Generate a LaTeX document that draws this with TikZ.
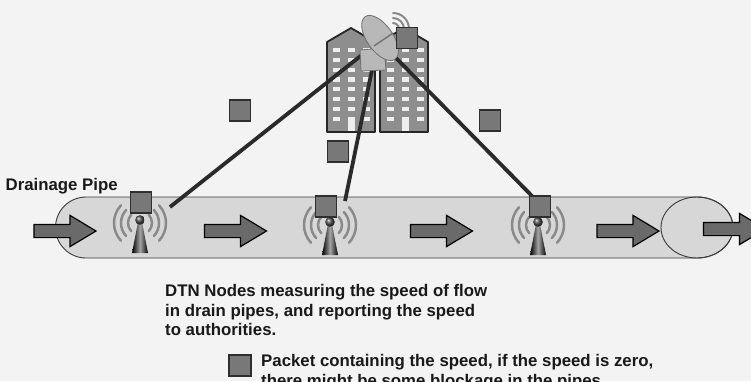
\documentclass[tikz,border=0pt]{standalone}
\usepackage{fontspec}
\setmainfont{Liberation Sans}
\usetikzlibrary{shapes.arrows}

\definecolor{bg}{HTML}{F3F3F3}
\definecolor{pipefill}{HTML}{D7D7D7}
\definecolor{pipeline}{HTML}{3A3A3A}
\definecolor{arrowfill}{HTML}{6A6A6A}
\definecolor{packetfill}{HTML}{787878}
\definecolor{packetline}{HTML}{2E2E2E}
\definecolor{bldgfill}{HTML}{8E8E8E}
\definecolor{window}{HTML}{EEEEEE}
\definecolor{dishfill}{HTML}{B8B8B8}
\definecolor{dishline}{HTML}{707070}
\definecolor{linkcol}{HTML}{2A2A2A}
\definecolor{wavecol}{HTML}{8A8A8A}

\tikzset{
  flowarrow/.style={single arrow, draw=black, fill=arrowfill, line width=1.2pt,
    minimum height=62pt, minimum width=30pt, inner sep=6pt,
    single arrow head extend=9pt, single arrow tip angle=62},
  packet/.style={draw=packetline, fill=packetfill, line width=1.3pt,
    minimum size=21pt, inner sep=0pt},
  link/.style={draw=linkcol, line width=3.8pt},
  wave/.style={draw=wavecol, line width=2.5pt, line cap=round},
  bldg/.style={fill=bldgfill, draw=black!85, line width=1.8pt, line join=round},
  win/.style={fill=window},
  dish/.style={fill=dishfill, draw=dishline, line width=0.8pt},
  lbl/.style={font=\bfseries\fontsize{16.8}{19.2}\selectfont, text=black!90,
    inner sep=0pt, align=left},
  tower/.pic={
    \foreach \r in {12,19,26}{
      \draw[wave] (0,3) ++(137:\r) arc[start angle=137, end angle=223, radius=\r];
      \draw[wave] (0,3) ++(-43:\r) arc[start angle=-43, end angle=43, radius=\r];
    }
    \shade[left color=black, right color=black, middle color=gray!70]
      (-2,2) -- (2,2) -- (8,33) -- (-8,33) -- cycle;
    \shade[ball color=gray!60!black] (0,0) circle (4.8);
  }
}

\begin{document}
\begin{tikzpicture}[x=1pt, y=-1pt]
  \useasboundingbox (0,0) rectangle (751,381);
  \clip (0,0) rectangle (751,381);
  \fill[bg] (0,0) rectangle (751,381);

  % drainage pipe with its open end
  \filldraw[fill=pipefill, draw=pipeline, line width=0.9pt]
    (697,197) -- (86,197) arc[start angle=-90, end angle=-270, radius=30.5]
    -- (697,258) arc[start angle=90, end angle=-90, x radius=36, y radius=30.5];
  \draw[pipeline, line width=0.9pt] (697,227.5) ellipse [x radius=36, y radius=30.5];

  % flow arrows
  \node[flowarrow] (a1) at (59.5,231) {};
  \node[flowarrow] (a2) at (230,231) {};
  \node[flowarrow] (a3) at (436,231) {};
  \node[flowarrow] (a4) at (622.5,231) {};
  \node[flowarrow] (a5) at (729,229) {};

  % sensor towers
  \pic at (140,220) {tower};
  \pic at (330,222) {tower};
  \pic at (538,222) {tower};

  % office buildings
  \filldraw[bldg] (327,132) -- (327,42) -- (351,28) -- (375,42) -- (375,132) -- cycle;
  \filldraw[bldg] (380,132) -- (380,42) -- (404,28) -- (428,42) -- (428,132) -- cycle;
  \foreach \row in {0,...,7}{
    \foreach \cx in {333,348,363,387,402,417}{
      \fill[win] (\cx,{48+9.8*\row}) rectangle ++(7,4.2);
    }
  }
  \fill[win] (348,121) rectangle (355,131);
  \fill[win] (402,121) rectangle (409,131);

  % links from the nodes to the dish
  \coordinate (s1) at (170,207);
  \coordinate (s2) at (345,201);
  \coordinate (s3) at (534,198);
  \coordinate (d1) at (363,54);
  \coordinate (d2) at (374,60);
  \coordinate (d3) at (396,58);
  \draw[link] (s1) -- (d1);
  \draw[link] (s2) -- (d2);
  \draw[link] (s3) -- (d3);

  % satellite dish
  \filldraw[dish] (360,50) -- (384,48) -- (386,70) -- (361,71) -- cycle;
  \filldraw[dish, rotate around={-55:(380,38)}] (380,38) ellipse [x radius=26, y radius=13];
  \draw[dishline, line width=1.4pt] (374,46) -- (393,33);
  \foreach \r in {6,11,16}{
    \draw[wave, line width=2pt] (393,29) ++(0:\r) arc[start angle=0, end angle=-90, radius=\r];
  }

  % packets
  \node[packet] (p1) at (141,202.5) {};
  \node[packet] (p2) at (326,206.5) {};
  \node[packet] (p3) at (540,206.5) {};
  \node[packet] (f1) at (240,110.5) {};
  \node[packet] (f2) at (338,151.5) {};
  \node[packet] (f3) at (490,120.5) {};
  \node[packet] (f4) at (407,38) {};
  \node[packet, minimum width=22pt, minimum height=21pt] (leg) at (240,365.5) {};

  % labels
  \node[lbl, anchor=north west] (pipe) at (5.5,178.5) {Drainage Pipe};
  \node[lbl, anchor=north west] (desc) at (165,284.5)
    {DTN Nodes measuring the speed of flow\\in drain pipes, and reporting the speed\\to authorities.};
  \node[lbl, anchor=north west] (legtxt) at (261,354.5)
    {Packet containing the speed, if the speed is zero,\\there might be some blockage in the pipes};
\end{tikzpicture}
\end{document}
